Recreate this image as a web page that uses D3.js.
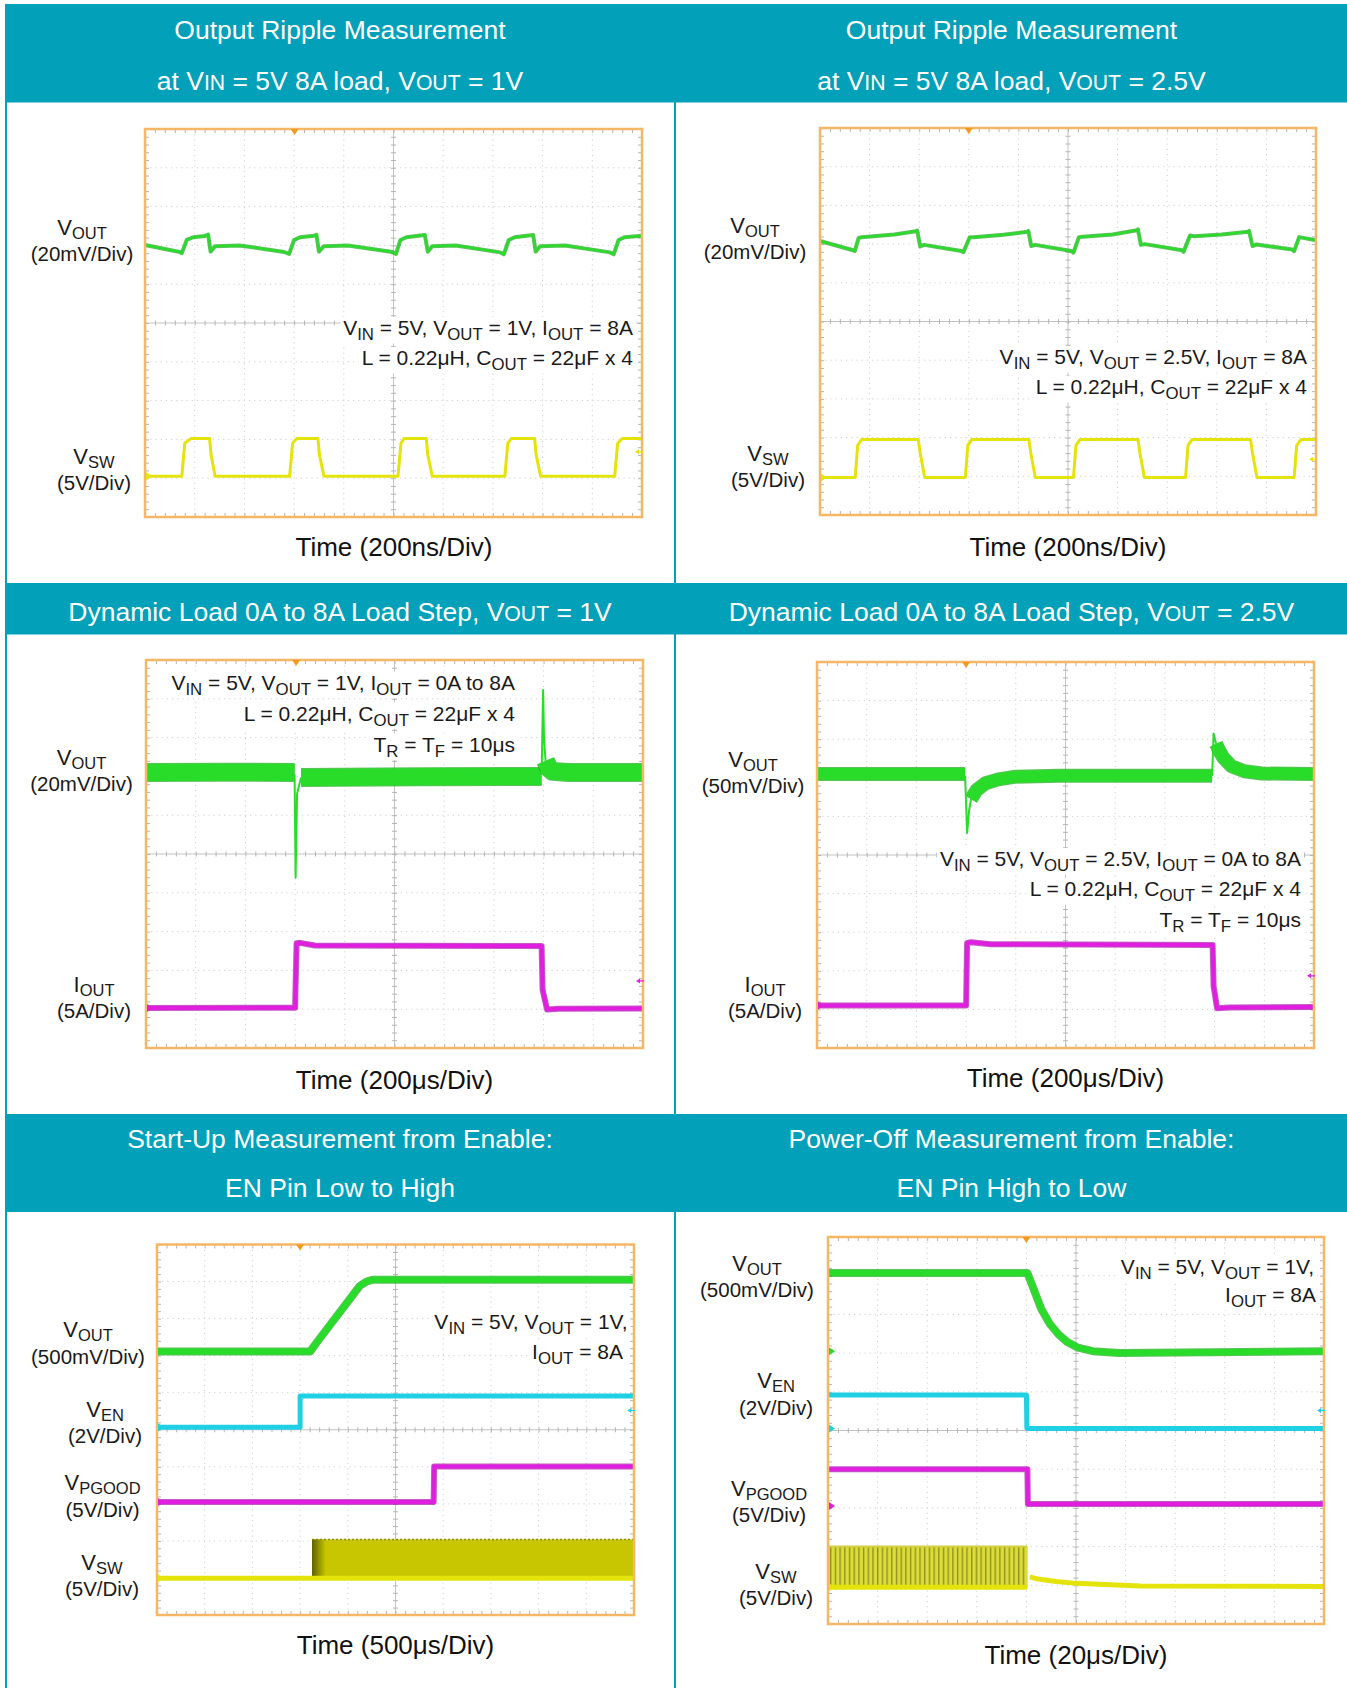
<!DOCTYPE html>
<html>
<head>
<meta charset="utf-8">
<script src="https://cdn.jsdelivr.net/npm/d3@7"></script>
<style>
  body { margin: 0; background: #fff; }
  svg { display: block; font-family: "Liberation Sans", Arial, sans-serif; }
</style>
</head>
<body>
<svg id="chart"></svg>
<script>
// ---- text ----
const titles = [
  ["Output Ripple Measurement", "at V~{IN} = 5V 8A load, V~{OUT} = 1V"],
  ["Output Ripple Measurement", "at V~{IN} = 5V 8A load, V~{OUT} = 2.5V"],
  ["Dynamic Load 0A to 8A Load Step, V~{OUT} = 1V"],
  ["Dynamic Load 0A to 8A Load Step, V~{OUT} = 2.5V"],
  ["Start-Up Measurement from Enable:", "EN Pin Low to High"],
  ["Power-Off Measurement from Enable:", "EN Pin High to Low"]
];
const timeLabels = ["Time (200ns/Div)", "Time (200ns/Div)", "Time (200μs/Div)",
  "Time (200μs/Div)", "Time (500μs/Div)", "Time (20μs/Div)"];
const channelLabels = [
  [["V_{OUT}", "(20mV/Div)"], ["V_{SW}", "(5V/Div)"]],
  [["V_{OUT}", "(20mV/Div)"], ["V_{SW}", "(5V/Div)"]],
  [["V_{OUT}", "(20mV/Div)"], ["I_{OUT}", "(5A/Div)"]],
  [["V_{OUT}", "(50mV/Div)"], ["I_{OUT}", "(5A/Div)"]],
  [["V_{OUT}", "(500mV/Div)"], ["V_{EN}", "(2V/Div)"], ["V_{PGOOD}", "(5V/Div)"], ["V_{SW}", "(5V/Div)"]],
  [["V_{OUT}", "(500mV/Div)"], ["V_{EN}", "(2V/Div)"], ["V_{PGOOD}", "(5V/Div)"], ["V_{SW}", "(5V/Div)"]]
];
const notes = [
  ["V_{IN} = 5V, V_{OUT} = 1V, I_{OUT} = 8A", "L = 0.22μH, C_{OUT} = 22μF x 4"],
  ["V_{IN} = 5V, V_{OUT} = 2.5V, I_{OUT} = 8A", "L = 0.22μH, C_{OUT} = 22μF x 4"],
  ["V_{IN} = 5V, V_{OUT} = 1V, I_{OUT} = 0A to 8A", "L = 0.22μH, C_{OUT} = 22μF x 4", "T_{R} = T_{F} = 10μs"],
  ["V_{IN} = 5V, V_{OUT} = 2.5V, I_{OUT} = 0A to 8A", "L = 0.22μH, C_{OUT} = 22μF x 4", "T_{R} = T_{F} = 10μs"],
  ["V_{IN} = 5V, V_{OUT} = 1V,", "I_{OUT} = 8A"],
  ["V_{IN} = 5V, V_{OUT} = 1V,", "I_{OUT} = 8A"]
];

// ---- traces, [time div, level div] ----
const p1Vout = [[0,7.01],[0.70,6.83],[0.74,6.80],[0.84,7.14],[0.97,7.21],[1.20,7.24],[1.27,7.28],[1.32,6.84],[1.41,6.98],
  [1.90,7.00],[2.80,6.83],[2.90,6.78],[3.00,7.14],[3.12,7.21],[3.40,7.25],[3.45,7.27],[3.50,6.84],[3.60,6.98],[4.08,7.00],
  [4.98,6.83],[5.05,6.78],[5.14,7.14],[5.26,7.21],[5.58,7.26],[5.63,7.27],[5.69,6.84],[5.78,6.98],[6.25,7.00],[7.15,6.82],
  [7.22,6.77],[7.32,7.14],[7.44,7.21],[7.76,7.26],[7.81,7.27],[7.86,6.84],[7.95,6.98],[8.45,7.00],[9.36,6.82],[9.43,6.77],
  [9.53,7.14],[9.65,7.21],[10,7.25]];
const p1Vsw = [[0,1.05],[0.74,1.05],[0.80,1.90],[0.92,2.02],[1.30,2.02],[1.33,1.60],[1.41,1.05],[2.91,1.05],[2.97,1.90],
  [3.05,2.02],[3.48,2.02],[3.51,1.60],[3.60,1.05],[5.09,1.05],[5.15,1.90],[5.21,2.02],[5.66,2.02],[5.69,1.60],[5.78,1.05],
  [7.24,1.05],[7.30,1.90],[7.37,2.02],[7.84,2.02],[7.87,1.60],[7.96,1.05],[9.45,1.05],[9.51,1.90],[9.60,2.02],[10,2.02]];
const p2Vout = [[0,7.08],[0.67,6.84],[0.70,6.82],[0.78,7.16],[0.84,7.18],[1.50,7.25],[1.93,7.33],[1.96,7.35],[2.02,6.94],
  [2.10,6.98],[2.85,6.82],[2.89,6.79],[3.02,7.18],[3.10,7.18],[3.70,7.24],[4.18,7.32],[4.20,7.34],[4.26,6.95],[4.34,6.98],
  [5.07,6.82],[5.11,6.78],[5.22,7.18],[5.30,7.19],[5.90,7.25],[6.39,7.36],[6.41,7.38],[6.47,6.98],[6.55,7.00],[7.30,6.84],
  [7.33,6.80],[7.46,7.22],[7.55,7.20],[8.10,7.25],[8.63,7.32],[8.65,7.34],[8.72,6.95],[8.80,6.99],[9.52,6.86],[9.56,6.82],
  [9.66,7.18],[10,7.10]];
const p2Vsw = [[0,0.97],[0.71,0.97],[0.76,1.80],[0.84,1.95],[1.98,1.95],[2.02,1.60],[2.11,0.97],[2.93,0.97],[2.98,1.80],
  [3.06,1.95],[4.21,1.95],[4.25,1.60],[4.34,0.97],[5.11,0.97],[5.16,1.80],[5.24,1.95],[6.41,1.95],[6.45,1.60],[6.54,0.97],
  [7.37,0.97],[7.42,1.80],[7.50,1.95],[8.68,1.95],[8.72,1.60],[8.81,0.97],[9.56,0.97],[9.61,1.80],[9.70,1.95],[10,1.95]];
const p3VoutBand = [
  [[0,7.10],[1.5,7.11],[2.99,7.10]],
  [[3.12,6.97],[5.5,6.99],[7.96,7.00]],
  [[8.04,7.40],[8.10,7.22],[8.18,7.13],[8.5,7.10],[10,7.10]]
];
const p3VoutSpikes = [
  [[2.99,7.05],[3.01,4.39],[3.04,6.55],[3.12,6.97]],
  [[7.96,7.05],[7.99,9.23],[8.01,7.90],[8.04,7.40]]
];
const p3Iout = [[0,1.03],[3.00,1.04],[3.03,2.70],[3.10,2.71],[3.40,2.64],[7.96,2.63],[7.98,1.50],[8.07,0.99],[8.30,1.01],[10,1.02]];
const p4VoutBand = [
  [[0,7.10],[2.98,7.10]],
  [[3.10,6.45],[3.21,6.68],[3.39,6.86],[3.65,6.96],[4.00,7.03],[4.87,7.05],[7.95,7.05]],
  [[8.03,7.88],[8.08,7.74],[8.17,7.53],[8.34,7.30],[8.60,7.17],[8.95,7.11],[10,7.10]]
];
const p4VoutSpikes = [
  [[2.98,7.05],[3.02,5.57],[3.06,6.15],[3.10,6.45]],
  [[7.95,7.05],[7.98,8.15],[8.03,7.88]]
];
const p4Iout = [[0,1.10],[3.00,1.10],[3.02,2.72],[3.10,2.74],[3.50,2.69],[7.96,2.67],[7.98,1.60],[8.05,1.03],[8.30,1.05],[10,1.06]];
const p5Vout = [[0,7.11],[3.21,7.11],[3.35,7.36],[4.25,8.88],[4.39,9.00],[4.53,9.05],[10,9.05]];
const p5Ven = [[0,5.07],[3.00,5.07],[3.00,5.91],[10,5.91]];
const p5Vpgood = [[0,3.05],[5.80,3.05],[5.81,4.01],[10,4.01]];
const p5Vsw = [[0,0.99],[10,0.99]];
const p5SwBurst = [3.25, 10, 0.99, 2.04];
const p6Vout = [[0,9.07],[4.02,9.07],[4.13,8.71],[4.30,8.14],[4.47,7.76],[4.65,7.48],[4.82,7.29],[5.04,7.14],[5.34,7.05],
  [5.87,7.00],[10,7.05]];
const p6Ven = [[0,5.92],[4.00,5.92],[4.01,5.05],[10,5.05]];
const p6Vpgood = [[0,4.00],[4.02,4.00],[4.03,3.10],[10,3.10]];
const p6Vsw = [[0,0.95],[4.02,0.95]];
const p6VswOff = [[4.07,1.22],[4.20,1.17],[4.60,1.10],[5.00,1.05],[6.30,0.98],[10,0.97]];
const p6SwBurst = [0, 4.02, 0.95, 2.00];

// ---- scope markers ----
const triggerPos = [3.01, 3.0, 3.02, 3.0, 3.0, 4.0];
const levelMarks = [["y", 1.68], ["y", 1.44], ["m", 1.73], ["m", 1.87], ["c", 5.52], ["c", 5.52]];
const groundMarks = [
  [["y", 1.05]], [["y", 0.97]], [["m", 1.03]], [["m", 1.10]],
  [["g", 7.11], ["c", 5.07], ["m", 3.05], ["y", 0.99]],
  [["g", 7.05], ["c", 5.05], ["m", 3.05], ["y", 0.95]]
];

const COL = { g: "#29dc29", y: "#e4e40c", m: "#e01ee0", c: "#1fd0e4" };
const darker = { g: "#16a816", y: "#a8a800", m: "#a814a8", c: "#1398a8" };
const TEAL = "#03a0b9";
const W = 1347, H = 1688;

const svg = d3.select("#chart").attr("width", W).attr("height", H);

const defs = svg.append("defs");
const stripes = defs.append("pattern").attr("id", "stripes")
  .attr("patternUnits", "userSpaceOnUse").attr("width", 4.7).attr("height", 10);
stripes.append("rect").attr("width", 4.7).attr("height", 10).attr("fill", "#dcdc3a");
stripes.append("rect").attr("x", 2.8).attr("width", 1.4).attr("height", 10).attr("fill", "#93931e");
const grad = defs.append("linearGradient").attr("id", "burstEdge");
grad.append("stop").attr("offset", "0%").attr("stop-color", "#5f5f00");
grad.append("stop").attr("offset", "100%").attr("stop-color", "#c8c800");

// frame
svg.append("rect").attr("x", 5).attr("y", 4).attr("width", 2).attr("height", H - 4).attr("fill", TEAL);
svg.append("rect").attr("x", 674).attr("y", 4).attr("width", 2).attr("height", H - 4).attr("fill", TEAL);
[[4, 102.5], [583, 634.5], [1114, 1212]].forEach(b => {
  svg.append("rect").attr("x", 5).attr("y", b[0]).attr("width", W - 5).attr("height", b[1] - b[0]).attr("fill", TEAL);
});

// one <text> per block; "_{..}" is a subscript, "~{..}" small caps
function rich(g, lines, xs, ys, sizes, anchor, fill, sub = [0.8, 0.26]) {
  const t = g.append("text").attr("text-anchor", anchor).attr("fill", fill).style("white-space", "pre");
  lines.forEach((str, k) => {
    const size = sizes[k] !== undefined ? sizes[k] : sizes[0];
    let shift = 0, first = true;
    str.split(/(_\{[^}]*\}|~\{[^}]*\})/).filter(s => s).forEach(p => {
      const span = t.append("tspan").attr("font-size", size);
      if (first) span.attr("x", xs[k]).attr("y", ys[k]);
      let dy;
      if (p.startsWith("_{")) {
        const s = size * sub[1];
        span.attr("font-size", size * sub[0]).text(p.slice(2, -1));
        dy = s - shift; shift = s;
      } else if (p.startsWith("~{")) {
        span.attr("font-size", size * 0.8).text(p.slice(2, -1));
        dy = -shift; shift = 0;
      } else {
        span.text(p);
        dy = -shift; shift = 0;
      }
      if (dy) span.attr("dy", dy);
      first = false;
    });
  });
  return t;
}

const layout = [
  { plot: [145, 642, 129, 517], title: [340, [39, 90]], time: [394, 556],
    labels: [[82, 236], [94, 465]], notesX: [633, 633], notesY: [335, 365] },
  { plot: [820, 1316, 128, 515], title: [1011.5, [39, 90]], time: [1068, 556],
    labels: [[755, 234], [768, 462]], notesX: [1307, 1307], notesY: [364, 394] },
  { plot: [146, 643, 660, 1048], title: [340, [620.5]], time: [394.5, 1089],
    labels: [[81.5, 766], [94, 993]], notesX: [515, 515, 515], notesY: [689.5, 720.5, 751.5] },
  { plot: [817, 1314, 662, 1048], title: [1011.5, [620.5]], time: [1065.5, 1087],
    labels: [[753, 768], [765, 993]], notesX: [1301, 1301, 1301], notesY: [866, 896, 927] },
  { plot: [157, 634, 1244.5, 1615], title: [340, [1148, 1197]], time: [395.5, 1654],
    labels: [[88, 1338.5], [105, 1418], [102.5, 1491.5], [102, 1571]], notesX: [627.5, 623], notesY: [1329, 1359] },
  { plot: [828, 1324, 1237, 1624], title: [1011.5, [1148, 1197]], time: [1076, 1664],
    labels: [[757, 1272], [776, 1389.5], [769, 1497], [776, 1580]], notesX: [1314, 1316], notesY: [1274, 1302] }
];

// traces per panel: data segments, colour key, width, noisy band look
const panelTraces = [
  [{ d: [p1Vout], c: "g", w: 4, band: true }, { d: [p1Vsw], c: "y", w: 3 }],
  [{ d: [p2Vout], c: "g", w: 4, band: true }, { d: [p2Vsw], c: "y", w: 3 }],
  [{ d: p3VoutBand, c: "g", w: 19, band: true }, { d: p3VoutSpikes, c: "g", w: 2 }, { d: [p3Iout], c: "m", w: 6, band: true }],
  [{ d: p4VoutBand, c: "g", w: 14, band: true }, { d: p4VoutSpikes, c: "g", w: 2 }, { d: [p4Iout], c: "m", w: 6, band: true }],
  [{ d: [p5Vout], c: "g", w: 8, band: true }, { d: [p5Ven], c: "c", w: 5 }, { d: [p5Vpgood], c: "m", w: 6, band: true },
   { d: [p5Vsw], c: "y", w: 5 }],
  [{ d: [p6Vout], c: "g", w: 8, band: true }, { d: [p6Ven], c: "c", w: 5 }, { d: [p6Vpgood], c: "m", w: 6, band: true },
   { d: [p6Vsw, p6VswOff], c: "y", w: 5 }]
];
const bursts = [null, null, null, null, p5SwBurst, p6SwBurst];

layout.forEach((L, i) => {
  const [x0, x1, y0, y1] = L.plot;
  const x = d3.scaleLinear().domain([0, 10]).range([x0, x1]);
  const y = d3.scaleLinear().domain([0, 10]).range([y1, y0]);
  const g = svg.append("g");

  // title
  rich(g, titles[i], L.title[1].map(() => L.title[0]), L.title[1], [26.5], "middle", "#fff");

  // grid
  const divs = d3.range(1, 10).filter(v => v !== 5);
  g.selectAll(null).data(divs).join("line")
    .attr("x1", d => x(d)).attr("x2", d => x(d)).attr("y1", y0).attr("y2", y1)
    .attr("stroke", "#cfcfcf").attr("stroke-width", 1).attr("stroke-dasharray", "1.2,4");
  g.selectAll(null).data(divs).join("line")
    .attr("y1", d => y(d)).attr("y2", d => y(d)).attr("x1", x0).attr("x2", x1)
    .attr("stroke", "#cfcfcf").attr("stroke-width", 1).attr("stroke-dasharray", "1.2,4");
  g.append("line").attr("x1", x(5)).attr("x2", x(5)).attr("y1", y0).attr("y2", y1).attr("stroke", "#c2c2c2");
  g.append("line").attr("y1", y(5)).attr("y2", y(5)).attr("x1", x0).attr("x2", x1).attr("stroke", "#c2c2c2");

  const minor = d3.range(0, 10.001, 0.2);
  const tickAxis = (axis, tx, ty, size) => {
    const a = g.append("g").attr("transform", `translate(${tx},${ty})`)
      .call(axis.tickValues(minor).tickSize(size).tickFormat(""));
    a.select(".domain").remove();
    a.selectAll("line").attr("stroke", "#b5b5b5");
  };
  tickAxis(d3.axisBottom(x), 0, y0, 4);
  tickAxis(d3.axisTop(x), 0, y1, 4);
  tickAxis(d3.axisRight(y), x0, 0, 4);
  tickAxis(d3.axisLeft(y), x1, 0, 4);
  tickAxis(d3.axisBottom(x), 0, y(5) - 2.5, 5);
  tickAxis(d3.axisRight(y), x(5) - 2.5, 0, 5);

  // notes, each line backed in white
  const ng = g.append("g");
  notes[i].forEach((str, k) => {
    const tmp = rich(ng, [str], [L.notesX[k]], [L.notesY[k]], [21], "end", "#1a1a1a");
    const bb = tmp.node().getBBox();
    tmp.remove();
    ng.append("rect").attr("x", bb.x - 3).attr("y", bb.y + 1).attr("width", bb.width + 6)
      .attr("height", bb.height - 2).attr("fill", "#fff");
  });
  rich(ng, notes[i], L.notesX, L.notesY, [21], "end", "#1a1a1a");

  // switching bursts
  const b = bursts[i];
  if (b) {
    const bx = x(b[0]), bw = x(b[1]) - x(b[0]), by = y(b[3]), bh = y(b[2]) - y(b[3]);
    if (i === 5) {
      g.append("rect").attr("x", bx).attr("y", by).attr("width", bw).attr("height", bh).attr("fill", "url(#stripes)");
      g.append("line").attr("x1", bx).attr("x2", bx + bw).attr("y1", by).attr("y2", by)
        .attr("stroke", "#d0d040").attr("stroke-width", 2);
    } else {
      g.append("rect").attr("x", bx).attr("y", by).attr("width", bw).attr("height", bh).attr("fill", "#c8c600");
      g.append("rect").attr("x", bx).attr("y", by).attr("width", 14).attr("height", bh).attr("fill", "url(#burstEdge)");
      g.append("line").attr("x1", bx).attr("x2", bx + bw).attr("y1", by).attr("y2", by)
        .attr("stroke", "#8c8a00").attr("stroke-width", 1.5).attr("stroke-dasharray", "2,2");
    }
  }

  // traces
  const line = d3.line().x(d => x(d[0])).y(d => y(d[1]));
  panelTraces[i].forEach(tr => {
    tr.d.forEach(seg => {
      if (tr.band) {
        g.append("path").attr("d", line(seg)).attr("fill", "none").attr("stroke", darker[tr.c])
          .attr("stroke-width", tr.w).attr("stroke-linejoin", "round").attr("opacity", 0.7);
        g.append("path").attr("d", line(seg)).attr("fill", "none").attr("stroke", COL[tr.c])
          .attr("stroke-width", Math.max(tr.w - 2, 1.5)).attr("stroke-linejoin", "round");
      } else {
        g.append("path").attr("d", line(seg)).attr("fill", "none").attr("stroke", COL[tr.c])
          .attr("stroke-width", tr.w).attr("stroke-linejoin", "round");
      }
    });
  });

  // border
  g.append("rect").attr("x", x0).attr("y", y0).attr("width", x1 - x0).attr("height", y1 - y0)
    .attr("fill", "none").attr("stroke", "#f5b766").attr("stroke-width", 2.5);

  // scope markers
  g.append("path").attr("transform", `translate(${x(triggerPos[i])},${y0})`)
    .attr("d", "M-4,0L4,0L0,6Z").attr("fill", "#f39a1e");
  groundMarks[i].forEach(m => {
    g.append("path").attr("transform", `translate(${x0 + 1},${y(m[1])})`)
      .attr("d", "M0,-4L0,4L6,0Z").attr("fill", COL[m[0]]);
  });
  const lm = levelMarks[i];
  g.append("path").attr("transform", `translate(${x(9.86)},${y(lm[1])})`)
    .attr("d", "M0,0L4,-2.5L4,2.5Z M4,-0.6L8,-0.6L8,0.6L4,0.6Z").attr("fill", COL[lm[0]]);

  // channel labels, two lines per text
  channelLabels[i].forEach((lab, k) => {
    const [cx, by] = L.labels[k];
    rich(g, lab, [cx, cx], [by - 1.5, by + 25], [22, 20.5], "middle", "#1a1a1a", [0.75, 0.19]);
  });

  // time label
  rich(g, [timeLabels[i]], [L.time[0]], [L.time[1]], [26], "middle", "#111");
});
</script>
</body>
</html>
